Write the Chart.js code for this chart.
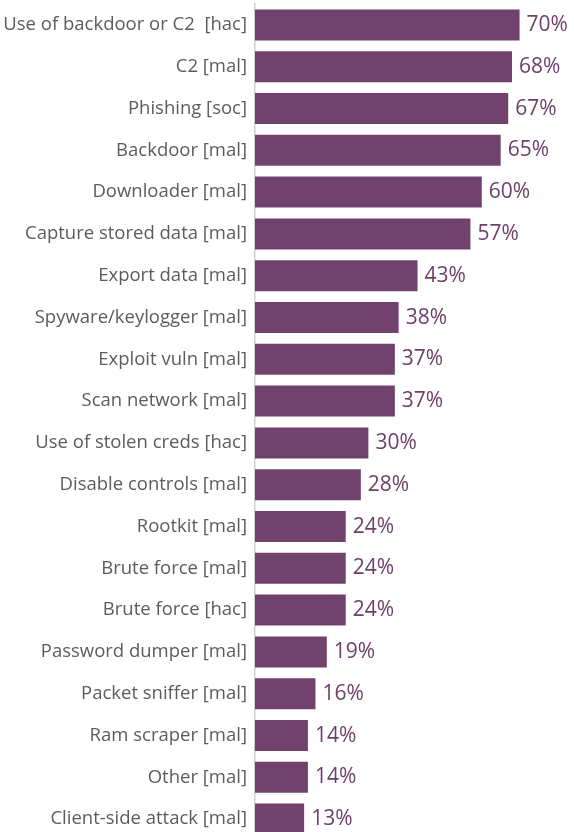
<!DOCTYPE html>
<html>
<head>
<meta charset="utf-8">
<script src="https://cdn.jsdelivr.net/npm/chart.js@4/dist/chart.umd.min.js"></script>
<style>
  html, body { margin: 0; padding: 0; background: #ffffff; overflow: hidden; }
  #wrap { width: 574px; height: 840px; position: relative; }
</style>
</head>
<body>
<div id="wrap"><canvas id="c"></canvas></div>
<script>
const categories = [
  "Use of backdoor or C2  [hac]",
  "C2 [mal]",
  "Phishing [soc]",
  "Backdoor [mal]",
  "Downloader [mal]",
  "Capture stored data [mal]",
  "Export data [mal]",
  "Spyware/keylogger [mal]",
  "Exploit vuln [mal]",
  "Scan network [mal]",
  "Use of stolen creds [hac]",
  "Disable controls [mal]",
  "Rootkit [mal]",
  "Brute force [mal]",
  "Brute force [hac]",
  "Password dumper [mal]",
  "Packet sniffer [mal]",
  "Ram scraper [mal]",
  "Other [mal]",
  "Client-side attack [mal]"
];
const values = [70, 68, 67, 65, 60, 57, 43, 38, 37, 37, 30, 28, 24, 24, 24, 19, 16, 14, 14, 13];

const BAR_COLOR = "#72426e";
const LABEL_COLOR = "#5c5c5c";
const VALUE_COLOR = "#6e3f6a";
const FONT = "'Open Sans', 'Noto Sans', sans-serif";

const valueLabels = {
  id: "valueLabels",
  afterDatasetsDraw(chart) {
    const ctx = chart.ctx;
    const meta = chart.getDatasetMeta(0);
    ctx.save();
    ctx.fillStyle = VALUE_COLOR;
    ctx.font = "21px " + FONT;
    ctx.textAlign = "left";
    ctx.textBaseline = "alphabetic";
    meta.data.forEach((bar, i) => {
      ctx.fillText(values[i] + "%", bar.x + 7, bar.y + 6);
    });
    ctx.restore();
  }
};

new Chart(document.getElementById("c"), {
  type: "bar",
  data: {
    labels: categories,
    datasets: [{
      data: values,
      backgroundColor: BAR_COLOR,
      borderWidth: 0,
      categoryPercentage: 1.0,
      barPercentage: 0.742
    }]
  },
  options: {
    indexAxis: "y",
    responsive: true,
    maintainAspectRatio: false,
    animation: false,
    layout: { padding: { top: 4, right: 0, bottom: 0, left: 0 } },
    plugins: {
      legend: { display: false },
      tooltip: { enabled: false }
    },
    scales: {
      x: {
        display: false,
        min: 0,
        max: 84.4
      },
      y: {
        afterFit(scale) {
          scale.width = 255;
          scale.paddingTop = 0;
          scale.paddingBottom = 0;
        },
        grid: { display: false, drawTicks: false, tickLength: 0 },
        border: { display: true, color: "#d0d0d0", width: 1.5 },
        ticks: {
          padding: 8,
          color: LABEL_COLOR,
          font: { family: FONT, size: 18.5 },
          autoSkip: false
        }
      }
    }
  },
  plugins: [valueLabels]
});
</script>
</body>
</html>
